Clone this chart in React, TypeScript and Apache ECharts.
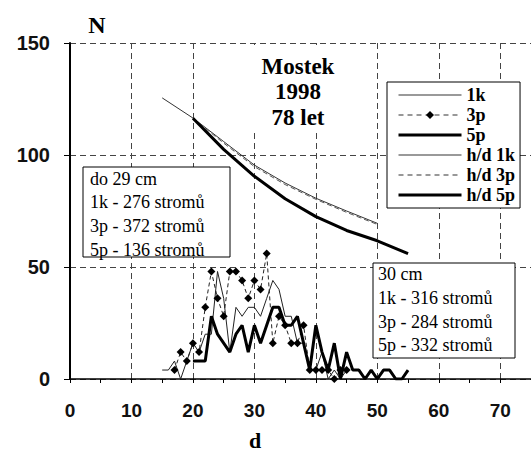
import React, { useEffect, useRef } from 'react';
import * as echarts from 'echarts';

// counts per diameter class
const d1k = [15, 16, 17, 18, 19, 20, 21, 22, 23, 24, 25, 26, 27, 28, 29, 30, 31, 32, 33, 34, 35, 36, 37, 38, 39, 40, 41, 42, 43, 44, 45];
const n1k = [4, 4, 8, 0, 8, 16, 12, 20, 20, 48, 36, 12, 32, 28, 32, 32, 28, 36, 44, 40, 28, 28, 16, 16, 4, 4, 12, 0, 4, 0, 4];

const d3p = [17, 18, 19, 20, 21, 22, 23, 24, 25, 26, 27, 28, 29, 30, 31, 32, 33, 34, 35, 36, 37, 38, 39, 40, 41, 42, 43, 44, 45];
const n3p = [4, 12, 8, 16, 12, 32, 48, 36, 28, 48, 48, 44, 36, 44, 40, 56, 16, 28, 24, 16, 16, 24, 4, 4, 4, 4, 0, 4, 4];

const d5p = [20, 21, 22, 23, 24, 25, 26, 27, 28, 29, 30, 31, 32, 33, 34, 35, 36, 37, 38, 39, 40, 41, 42, 43, 44, 45, 46, 47, 48, 49, 50, 51, 52, 53, 54, 55];
const n5p = [8, 8, 8, 28, 20, 16, 12, 20, 24, 12, 24, 16, 24, 32, 32, 24, 24, 28, 16, 4, 24, 12, 4, 16, 0, 12, 4, 4, 0, 4, 0, 4, 4, 0, 0, 4];

// h/d curves
const dHd1k = [15, 20, 25, 30, 35, 40, 45, 50];
const nHd1k = [125.5, 116.5, 106, 95.5, 87.5, 80.7, 75, 69.5];
const dHd3p = [20, 25, 30, 35, 40, 45, 50];
const nHd3p = [116.4, 105.3, 94.8, 86.8, 80.2, 74.4, 69];
const dHd5p = [20, 25, 30, 35, 40, 45, 50, 55];
const nHd5p = [116.4, 102.5, 90.5, 80.5, 72.5, 66.3, 61.7, 56];

const xTicks = [0, 10, 20, 30, 40, 50, 60, 70];

const legendNames = ['1k', '3p', '5p', 'h/d 1k', 'h/d 3p', 'h/d 5p'];
const titleLines = ['Mostek', '1998', '78 let'];
const box1Lines = ['do 29 cm', '1k - 276 stromů', '3p - 372 stromů', '5p - 136 stromů'];
const box2Lines = ['30 cm', '1k - 316 stromů', '3p - 284 stromů', '5p - 332 stromů'];

const pairs = (xs: number[], ys: number[]) => xs.map((x, i) => [x, ys[i]]);

const SERIF = '"Liberation Serif", "DejaVu Serif", serif';
const SANS = '"Liberation Sans", Arial, sans-serif';

const legendLine = (name: string) => {
  if (name.endsWith('5p')) return { color: '#000', width: 3, type: 'solid' };
  if (name.endsWith('3p')) return { color: '#777', width: 1.5, type: [5, 4] };
  return { color: '#777', width: 1.5, type: 'solid' };
};

export default function App() {
  const ref = useRef<HTMLDivElement>(null);
  useEffect(() => {
    if (!ref.current) return;
    const chart = echarts.init(ref.current, null, { renderer: 'svg' });

    const textEls = (lines: string[], x: number, y0: number, step: number, size: number, bold: boolean, align: string) =>
      lines.map((t, i) => ({
        type: 'text',
        x,
        y: y0 + i * step,
        z: 101,
        style: {
          text: t,
          fontSize: size,
          fontFamily: SERIF,
          fontWeight: bold ? 'bold' : 'normal',
          fill: '#000',
          align,
          verticalAlign: 'middle',
        },
      }));

    chart.setOption({
      animation: false,
      backgroundColor: '#fff',
      grid: { left: 70, top: 43, width: 465, height: 336, containLabel: false },
      xAxis: {
        type: 'value',
        min: 0,
        max: 75,
        interval: 10,
        axisLine: { show: true, onZero: false, lineStyle: { color: '#000', width: 1.5 } },
        axisTick: { show: true, length: 4, lineStyle: { color: '#000' } },
        minorTick: { show: true, splitNumber: 2, length: 4, lineStyle: { color: '#000' } },
        axisLabel: {
          margin: 22,
          fontSize: 19,
          fontWeight: 'bold',
          fontFamily: SANS,
          color: '#111',
          showMaxLabel: false,
          formatter: (v: number) => (xTicks.includes(v) ? String(v) : ''),
        },
        splitLine: { show: true, lineStyle: { color: '#444', type: [6, 4], width: 1 } },
      },
      yAxis: {
        type: 'value',
        min: 0,
        max: 150,
        interval: 50,
        axisLine: { show: true, lineStyle: { color: '#000', width: 2 } },
        axisTick: { show: true, length: 6, lineStyle: { color: '#000' } },
        axisLabel: { margin: 20, fontSize: 20, fontWeight: 'bold', fontFamily: SANS, color: '#111' },
        splitLine: { show: true, lineStyle: { color: '#444', type: [6, 4], width: 1 } },
      },
      legend: {
        orient: 'vertical',
        left: 387,
        top: 82,
        padding: [4, 5, 4, 10],
        itemWidth: 63,
        itemHeight: 10,
        itemGap: 2,
        backgroundColor: '#fff',
        borderColor: '#000',
        borderWidth: 1,
        borderRadius: 0,
        z: 100,
        textStyle: { fontFamily: SERIF, fontWeight: 'bold', fontSize: 18, color: '#000' },
        data: legendNames.map((n) => ({
          name: n,
          lineStyle: legendLine(n),
          itemStyle: n === '3p' ? { color: '#000', opacity: 1 } : { color: '#000', opacity: 0 },
        })),
      },
      graphic: [
        { type: 'rect', shape: { x: 226, y: 45, width: 146, height: 87 }, style: { fill: '#fff' }, z: 100 },
        ...textEls(titleLines, 298, 66, 25.5, 23, true, 'center'),
        { type: 'rect', shape: { x: 83, y: 167, width: 147, height: 90 }, style: { fill: '#fff', stroke: '#000', lineWidth: 1 }, z: 100 },
        ...textEls(box1Lines, 90, 178.5, 23.7, 18, false, 'left'),
        { type: 'rect', shape: { x: 373, y: 263, width: 142, height: 95 }, style: { fill: '#fff', stroke: '#000', lineWidth: 1 }, z: 100 },
        ...textEls(box2Lines, 378, 274, 23.8, 18, false, 'left'),
        { type: 'text', x: 97, y: 25, z: 101, style: { text: 'N', fontSize: 24, fontWeight: 'bold', fontFamily: SERIF, fill: '#000', align: 'center', verticalAlign: 'middle' } },
        { type: 'text', x: 255, y: 440, z: 101, style: { text: 'd', fontSize: 22, fontWeight: 'bold', fontFamily: SERIF, fill: '#000', align: 'center', verticalAlign: 'middle' } },
      ],
      series: [
        { name: '1k', type: 'line', symbol: 'none', data: pairs(d1k, n1k), lineStyle: { color: '#222', width: 1 }, itemStyle: { color: '#222' } },
        {
          name: '3p', type: 'line', symbol: 'diamond', symbolSize: 8, data: pairs(d3p, n3p),
          lineStyle: { color: '#222', width: 1, type: [4, 3] }, itemStyle: { color: '#000' },
        },
        { name: '5p', type: 'line', symbol: 'none', data: pairs(d5p, n5p), lineStyle: { color: '#000', width: 3 }, itemStyle: { color: '#000' } },
        { name: 'h/d 1k', type: 'line', symbol: 'none', data: pairs(dHd1k, nHd1k), lineStyle: { color: '#333', width: 1 }, itemStyle: { color: '#333' } },
        { name: 'h/d 3p', type: 'line', symbol: 'none', data: pairs(dHd3p, nHd3p), lineStyle: { color: '#555', width: 1, type: [5, 3] }, itemStyle: { color: '#555' } },
        { name: 'h/d 5p', type: 'line', symbol: 'none', data: pairs(dHd5p, nHd5p), lineStyle: { color: '#000', width: 3 }, itemStyle: { color: '#000' } },
      ],
    });
    return () => chart.dispose();
  }, []);
  return <div ref={ref} style={{ position: 'absolute', left: 0, top: 0, width: 531, height: 453 }} />;
}
